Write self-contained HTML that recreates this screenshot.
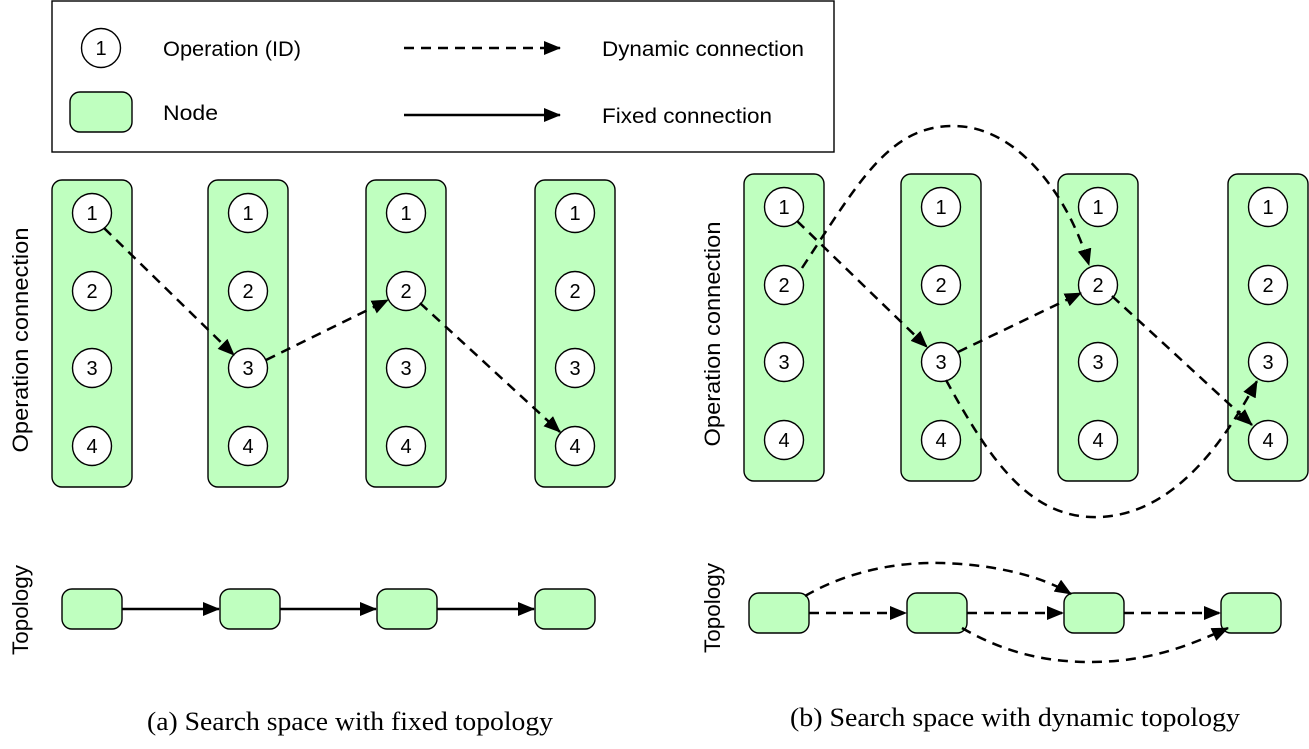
<!DOCTYPE html>
<html><head><meta charset="utf-8"><style>
body{margin:0;background:#fff}
svg{display:block}
text{font-family:"Liberation Sans",Helvetica,sans-serif}
</style></head><body>
<svg width="1309" height="749" viewBox="0 0 1309 749" xmlns="http://www.w3.org/2000/svg">
<defs>
<marker id="ah" markerWidth="18" markerHeight="14" refX="16" refY="7" orient="auto" markerUnits="userSpaceOnUse">
<path d="M0,0 L17,7 L0,14 z" fill="#000"/>
</marker>
<g id="col">
<rect x="0" y="0" width="80" height="307" rx="10" fill="#bfffbf" stroke="#000" stroke-width="1.4"/>
<circle cx="40" cy="33" r="19.5" fill="#fff" stroke="#000" stroke-width="1.4"/>
<circle cx="40" cy="111" r="19.5" fill="#fff" stroke="#000" stroke-width="1.4"/>
<circle cx="40" cy="188" r="19.5" fill="#fff" stroke="#000" stroke-width="1.4"/>
<circle cx="40" cy="266" r="19.5" fill="#fff" stroke="#000" stroke-width="1.4"/>
<g font-size="20" text-anchor="middle">
<text x="40" y="40">1</text><text x="40" y="118">2</text><text x="40" y="195">3</text><text x="40" y="273">4</text>
</g>
</g>
<rect id="nd" x="0" y="0" width="60" height="40" rx="10" fill="#bfffbf" stroke="#000" stroke-width="1.4"/>
</defs>

<!-- legend -->
<rect x="52" y="1" width="782" height="151" fill="#fff" stroke="#000" stroke-width="1.4"/>
<circle cx="101" cy="48" r="19.5" fill="#fff" stroke="#000" stroke-width="1.4"/>
<text x="101" y="55" font-size="20" text-anchor="middle">1</text>
<text x="163" y="56" font-size="21" textLength="138" lengthAdjust="spacingAndGlyphs">Operation (ID)</text>
<rect x="70" y="92" width="62" height="40" rx="10" fill="#bfffbf" stroke="#000" stroke-width="1.4"/>
<text x="163" y="120" font-size="21" textLength="55" lengthAdjust="spacingAndGlyphs">Node</text>
<line x1="404" y1="48" x2="560" y2="48" stroke="#000" stroke-width="2.5" stroke-dasharray="10,7" marker-end="url(#ah)"/>
<text x="602" y="56" font-size="21" textLength="202" lengthAdjust="spacingAndGlyphs">Dynamic connection</text>
<line x1="404" y1="115" x2="560" y2="115" stroke="#000" stroke-width="2.5" marker-end="url(#ah)"/>
<text x="602" y="123" font-size="21" textLength="170" lengthAdjust="spacingAndGlyphs">Fixed connection</text>

<!-- (a) -->
<use href="#col" x="52" y="180"/>
<use href="#col" x="208" y="180"/>
<use href="#col" x="366" y="180"/>
<use href="#col" x="535" y="180"/>
<g stroke="#000" stroke-width="2.5" stroke-dasharray="10,7" fill="none">
<line x1="104" y1="228" x2="234" y2="355" marker-end="url(#ah)"/>
<line x1="266" y1="360" x2="388" y2="300" marker-end="url(#ah)"/>
<line x1="420" y1="303" x2="560" y2="432" marker-end="url(#ah)"/>
</g>
<text transform="translate(28,340) rotate(-90)" font-size="22" text-anchor="middle" textLength="225" lengthAdjust="spacingAndGlyphs">Operation connection</text>
<text transform="translate(28,610) rotate(-90)" font-size="22" text-anchor="middle" textLength="90" lengthAdjust="spacingAndGlyphs">Topology</text>
<use href="#nd" x="62" y="589"/><use href="#nd" x="220" y="589"/><use href="#nd" x="377" y="589"/><use href="#nd" x="535" y="589"/>
<g stroke="#000" stroke-width="2.5">
<line x1="122" y1="609" x2="219" y2="609" marker-end="url(#ah)"/>
<line x1="280" y1="609" x2="376" y2="609" marker-end="url(#ah)"/>
<line x1="437" y1="609" x2="534" y2="609" marker-end="url(#ah)"/>
</g>

<!-- (b) -->
<use href="#col" x="744" y="174"/>
<use href="#col" x="901" y="174"/>
<use href="#col" x="1058" y="174"/>
<use href="#col" x="1228" y="174"/>
<g stroke="#000" stroke-width="2.5" stroke-dasharray="10,7" fill="none">
<line x1="797" y1="221" x2="927" y2="347" marker-end="url(#ah)"/>
<line x1="958" y1="352" x2="1081" y2="293" marker-end="url(#ah)"/>
<line x1="1112" y1="296" x2="1252" y2="425" marker-end="url(#ah)"/>
<path d="M802,268 C860,180 890,125 955,126 C1020,127 1070,200 1089,265" marker-end="url(#ah)"/>
<path d="M946,380 C990,460 1030,520 1100,517 C1170,514 1220,450 1257,381" marker-end="url(#ah)"/>
</g>
<text transform="translate(720,334) rotate(-90)" font-size="22" text-anchor="middle" textLength="225" lengthAdjust="spacingAndGlyphs">Operation connection</text>
<text transform="translate(720,608) rotate(-90)" font-size="22" text-anchor="middle" textLength="90" lengthAdjust="spacingAndGlyphs">Topology</text>
<use href="#nd" x="749" y="593"/><use href="#nd" x="907" y="593"/><use href="#nd" x="1064" y="593"/><use href="#nd" x="1221" y="593"/>
<g stroke="#000" stroke-width="2.5" stroke-dasharray="10,7" fill="none">
<line x1="809" y1="613" x2="906" y2="613" marker-end="url(#ah)"/>
<line x1="967" y1="613" x2="1063" y2="613" marker-end="url(#ah)"/>
<line x1="1124" y1="613" x2="1220" y2="613" marker-end="url(#ah)"/>
<path d="M805,596 C850,570 900,562 940,563 C990,564 1040,575 1071,594" marker-end="url(#ah)"/>
<path d="M962,628 C1000,650 1040,662 1090,662 C1150,662 1190,645 1228,628" marker-end="url(#ah)"/>
</g>

<text x="350" y="730" font-size="26" text-anchor="middle" textLength="406" lengthAdjust="spacingAndGlyphs" style="font-family:'Liberation Serif',serif">(a) Search space with fixed topology</text>
<text x="1015" y="726" font-size="26" text-anchor="middle" textLength="450" lengthAdjust="spacingAndGlyphs" style="font-family:'Liberation Serif',serif">(b) Search space with dynamic topology</text>
</svg>
</body></html>
